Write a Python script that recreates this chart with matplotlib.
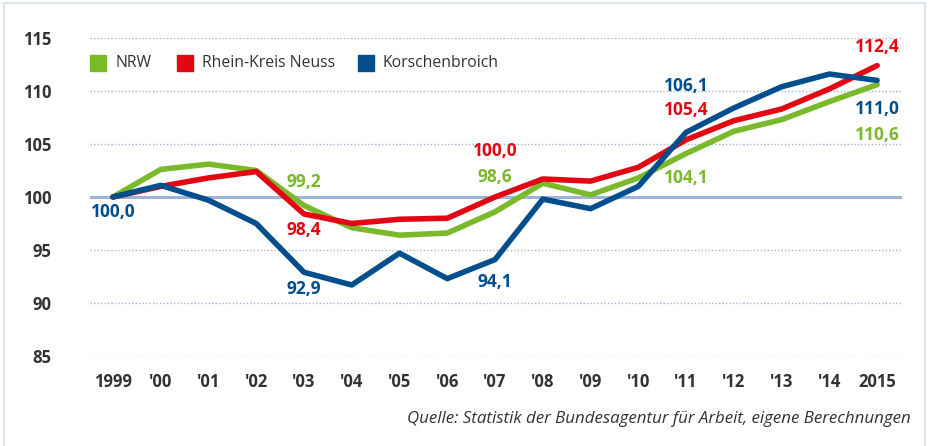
import numpy as np
import matplotlib.pyplot as plt
from matplotlib.patches import Rectangle
from matplotlib.lines import Line2D

# Data
years = np.arange(1999, 2016)
year_labels = ['1999', "'00", "'01", "'02", "'03", "'04", "'05", "'06", "'07",
               "'08", "'09", "'10", "'11", "'12", "'13", "'14", '2015']
nrw = [100.0, 102.6, 103.1, 102.5, 99.2, 97.1, 96.4, 96.6, 98.6,
       101.3, 100.2, 101.8, 104.1, 106.2, 107.3, 109.0, 110.6]
neuss = [100.0, 101.0, 101.8, 102.4, 98.4, 97.5, 97.9, 98.0, 100.0,
         101.7, 101.5, 102.8, 105.4, 107.2, 108.3, 110.2, 112.4]
korschenbroich = [100.0, 101.1, 99.7, 97.5, 92.9, 91.7, 94.7, 92.3, 94.1,
                  99.8, 98.9, 101.0, 106.1, 108.4, 110.4, 111.6, 111.0]
series_names = ['NRW', 'Rhein-Kreis Neuss', 'Korschenbroich']
yticks = [85, 90, 95, 100, 105, 110, 115]

GREEN = '#7ab929'
RED = '#e30613'
BLUE = '#004f8c'
GRID = '#9fb4d8'
TXT = '#333333'

plt.rcParams['font.family'] = ['Open Sans', 'DejaVu Sans']

W, H = 930, 446
fig = plt.figure(figsize=(W / 100, H / 100), dpi=100)

# light frame around the figure
fig.add_artist(Line2D([4 / W, 4 / W], [0, 1 - 3 / H], color='#dce4ef', lw=1.5))
fig.add_artist(Line2D([925 / W, 925 / W], [0, 1 - 3 / H], color='#dce4ef', lw=1.5))
fig.add_artist(Line2D([4 / W, 925 / W], [1 - 3 / H, 1 - 3 / H], color='#dce4ef', lw=1.5))

ax = fig.add_axes([90 / W, (H - 356) / H, 812 / W, 318 / H])
ax.set_xlim(1998.52, 2015.52)
ax.set_ylim(85, 115)
for s in ax.spines.values():
    s.set_visible(False)

# grid lines
for v in yticks:
    if v == 100:
        ax.axhline(v, color='#9fb3d9', lw=2.2, zorder=1)
    else:
        ax.axhline(v, color=GRID, lw=1.0, ls=(0, (1, 1.5)), zorder=1)

ax.plot(years, nrw, color=GREEN, lw=4, solid_capstyle='round', solid_joinstyle='round', zorder=3)
ax.plot(years, neuss, color=RED, lw=4, solid_capstyle='round', solid_joinstyle='round', zorder=4)
ax.plot(years, korschenbroich, color=BLUE, lw=4, solid_capstyle='round', solid_joinstyle='round', zorder=5)

ax.set_yticks(yticks)
ax.set_yticklabels([str(v) for v in yticks], fontsize=12, fontweight='bold', color=TXT)
ax.set_xticks(years)
ax.set_xticklabels(year_labels, fontsize=12, fontweight='bold', color=TXT)
ax.tick_params(axis='y', length=0, pad=28)
ax.tick_params(axis='x', length=0, pad=12)

# value annotations (offset in pixels from the data point)
def label(x, y, text, color, dy):
    ax.annotate(text, (x, y), xytext=(0, dy), textcoords='offset pixels',
                ha='center', va='center', fontsize=12.5, fontweight='bold',
                color=color, zorder=6)

label(1999, korschenbroich[0], '100,0', BLUE, -15)
label(2003, nrw[4], '99,2', GREEN, 23)
label(2003, neuss[4], '98,4', RED, -16)
label(2003, korschenbroich[4], '92,9', BLUE, -17)
label(2007, neuss[8], '100,0', RED, 46)
label(2007, nrw[8], '98,6', GREEN, 35)
label(2007, korschenbroich[8], '94,1', BLUE, -22)
label(2011, nrw[12], '104,1', GREEN, -24)
label(2011, korschenbroich[12], '106,1', BLUE, 46)
label(2011, neuss[12], '105,4', RED, 30)
label(2015, neuss[16], '112,4', RED, 19)
label(2015, korschenbroich[16], '111,0', BLUE, -29)
label(2015, nrw[16], '110,6', GREEN, -50)

# legend
legend_colors = [GREEN, RED, BLUE]
legend_x = [90, 177, 358]
for name, c, lx in zip(series_names, legend_colors, legend_x):
    fig.add_artist(Rectangle((lx / W, (H - 71) / H), 16 / W, 16 / H, color=c,
                             transform=fig.transFigure))
    fig.text((lx + 25) / W, (H - 63) / H, name, fontsize=11.3, color=TXT,
             ha='left', va='center')

fig.text(911 / W, (H - 419) / H,
         'Quelle: Statistik der Bundesagentur für Arbeit, eigene Berechnungen',
         fontsize=12.2, style='italic', color=TXT, ha='right', va='center')

fig.savefig('out.png', dpi=100)
